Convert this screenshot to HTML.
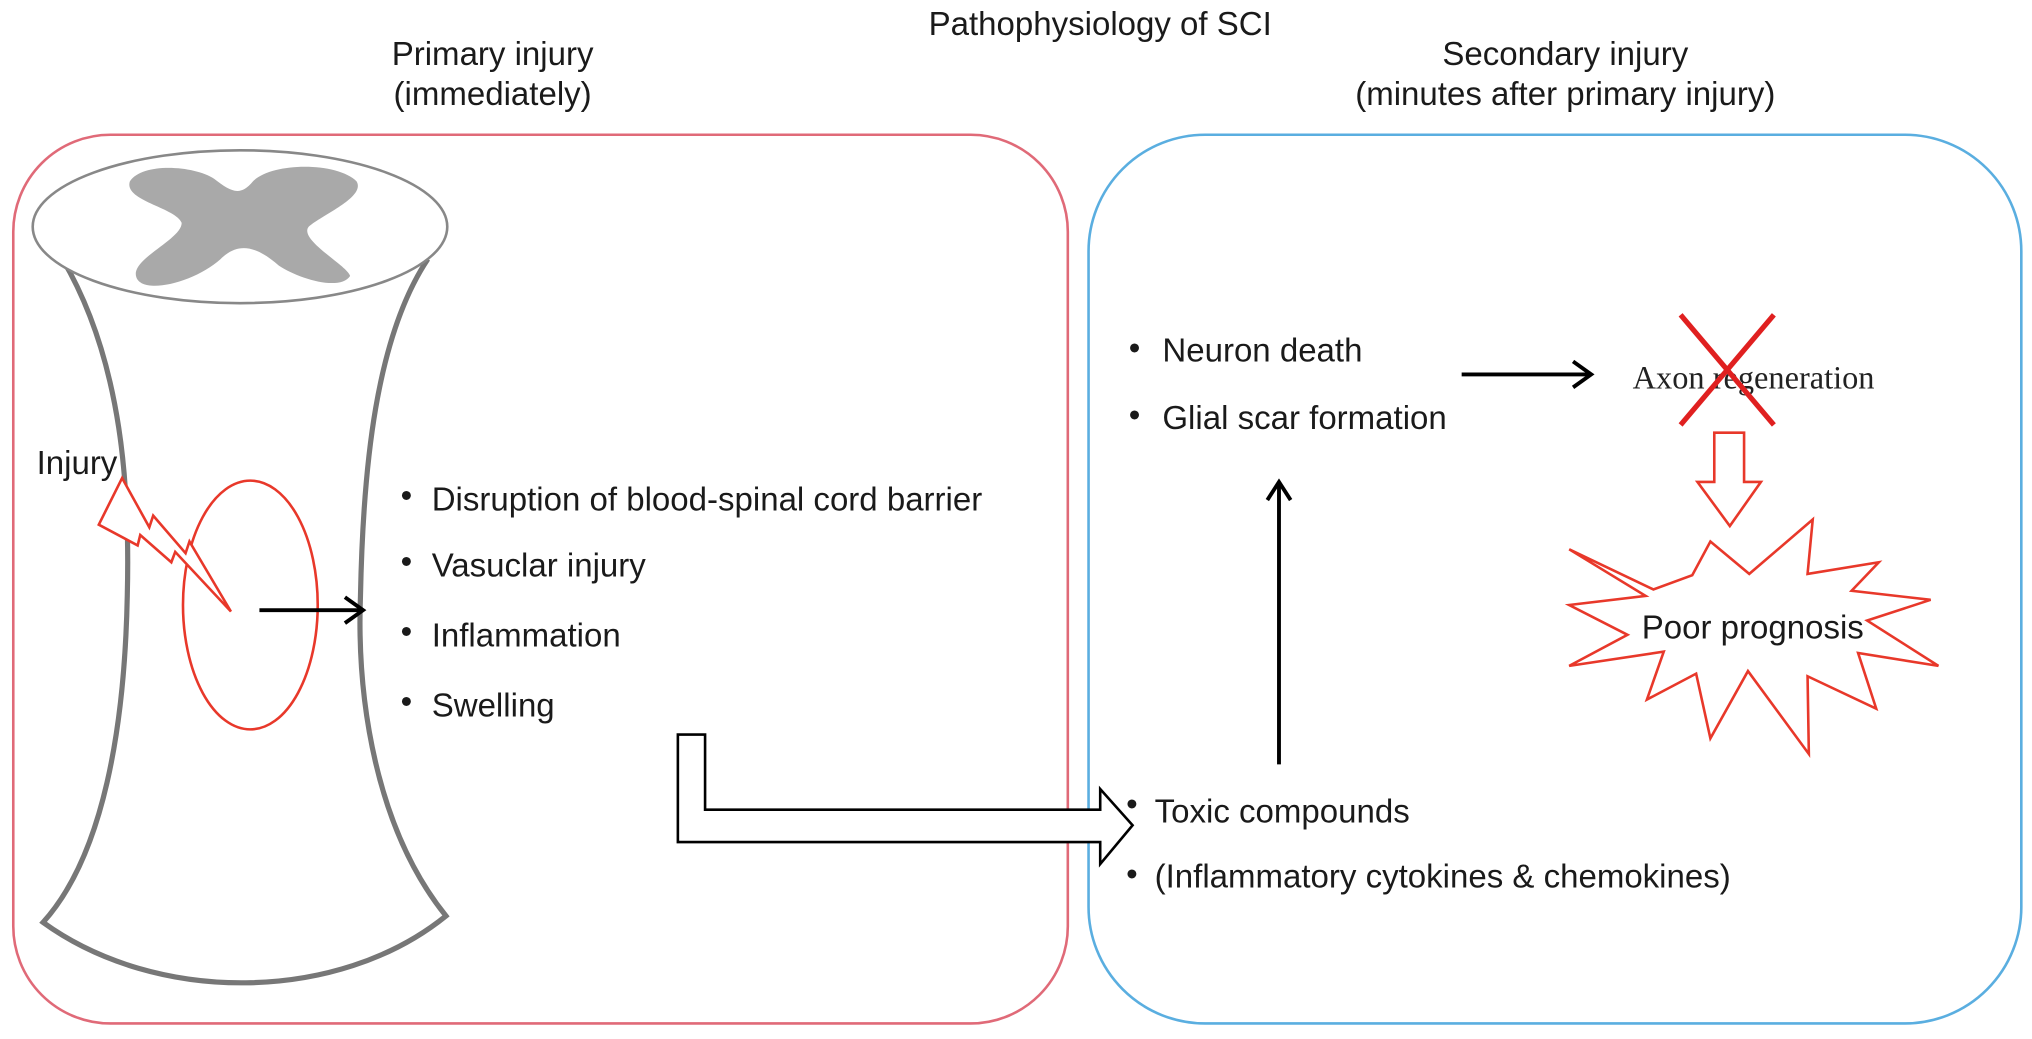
<!DOCTYPE html>
<html><head><meta charset="utf-8"><style>html,body{margin:0;padding:0;background:#fff}svg{display:block}</style></head>
<body>
<svg width="2032" height="1039" viewBox="0 0 1568 802" xmlns="http://www.w3.org/2000/svg" font-family="Liberation Sans, sans-serif" fill="#1a1a1a">
<text x="849" y="27" font-size="25.5" text-anchor="middle">Pathophysiology of SCI</text>
<text x="380" y="50" font-size="25.5" text-anchor="middle">Primary injury</text>
<text x="380" y="81" font-size="25.5" text-anchor="middle">(immediately)</text>
<text x="1208" y="50" font-size="25.5" text-anchor="middle">Secondary injury</text>
<text x="1208" y="81" font-size="25.5" text-anchor="middle">(minutes after primary injury)</text>
<rect x="10" y="104" width="814" height="686" rx="75" fill="none" stroke="#e06a78" stroke-width="2"/>
<rect x="840" y="104" width="720" height="686" rx="90" fill="none" stroke="#5aaee0" stroke-width="2"/>
<path d="M48,200 C95,280 100,380 98,460 C96,560 80,660 33,712 C120,775 260,775 344,707 C290,640 275,540 278,460 C280,360 290,260 330,200" fill="#fff" stroke="#777" stroke-width="4"/>
<ellipse cx="185" cy="175" rx="160" ry="59" fill="#fff" stroke="#888" stroke-width="2"/>
<path d="M100,140 C110,125 150,128 165,138 C178,148 185,152 195,140 C210,125 260,125 275,140 C282,152 250,165 238,175 C230,185 268,205 270,213 C262,225 230,215 215,205 C200,192 185,185 170,200 C150,218 110,228 105,214 C100,200 140,185 140,172 C135,160 95,155 100,140 Z" fill="#a9a9a9"/>
<ellipse cx="193" cy="467" rx="52" ry="96" fill="none" stroke="#e8382a" stroke-width="2"/>
<polygon points="94,369 76,405 106,421 108,413 132,434 135,426 178,472 146,418 143,427 118,398 115,407" fill="#fff" stroke="#e8382a" stroke-width="2"/>
<text x="28" y="366" font-size="25.5">Injury</text>
<line x1="200" y1="471" x2="278" y2="471" stroke="#000" stroke-width="3"/>
<polyline points="266,461 280,471 266,481" fill="none" stroke="#000" stroke-width="3"/>
<g font-size="25.5">
<text x="309" y="391">•</text><text x="333" y="394">Disruption of blood-spinal cord barrier</text>
<text x="309" y="442">•</text><text x="333" y="445">Vasuclar injury</text>
<text x="309" y="496">•</text><text x="333" y="499">Inflammation</text>
<text x="309" y="550">•</text><text x="333" y="553">Swelling</text>
</g>
<path d="M523,567 L544,567 L544,625 L849,625 L849,609 L874,637 L849,667 L849,650 L523,650 Z" fill="#fff" stroke="#000" stroke-width="2"/>
<g font-size="25.5">
<text x="871" y="277">•</text><text x="897" y="279">Neuron death</text>
<text x="871" y="329">•</text><text x="897" y="331">Glial scar formation</text>
<text x="869" y="629">•</text><text x="891" y="635">Toxic compounds</text>
<text x="869" y="683">•</text><text x="891" y="685">(Inflammatory cytokines &amp; chemokines)</text>
</g>
<line x1="1128" y1="289" x2="1226" y2="289" stroke="#000" stroke-width="3"/>
<polyline points="1214,279 1228,289 1214,299" fill="none" stroke="#000" stroke-width="3"/>
<line x1="987" y1="590" x2="987" y2="374" stroke="#000" stroke-width="3"/>
<polyline points="978,386 987,372 996,386" fill="none" stroke="#000" stroke-width="3"/>
<text x="1260" y="300" font-size="25" font-family="Liberation Serif, serif" fill="#222">Axon regeneration</text>
<line x1="1297" y1="243" x2="1369" y2="328" stroke="#e02020" stroke-width="4"/>
<line x1="1369" y1="243" x2="1297" y2="328" stroke="#e02020" stroke-width="4"/>
<path d="M1323,334 L1346,334 L1346,372 L1359,372 L1335,406 L1310,372 L1323,372 Z" fill="#fff" stroke="#e8382a" stroke-width="2"/>
<polygon points="1211,424 1276,455 1306,444 1320,418 1350,443 1399,401 1395,443 1450,434 1429,456 1490,463 1441,479 1496,514 1434,504 1448,547 1395,522 1396,582 1349,518 1320,570 1309,520 1271,540 1284,503 1211,514 1256,490 1211,467 1270,460" fill="#fff" stroke="#e8382a" stroke-width="2"/>
<text x="1267" y="493" font-size="25.5">Poor prognosis</text>
</svg>
</body></html>
